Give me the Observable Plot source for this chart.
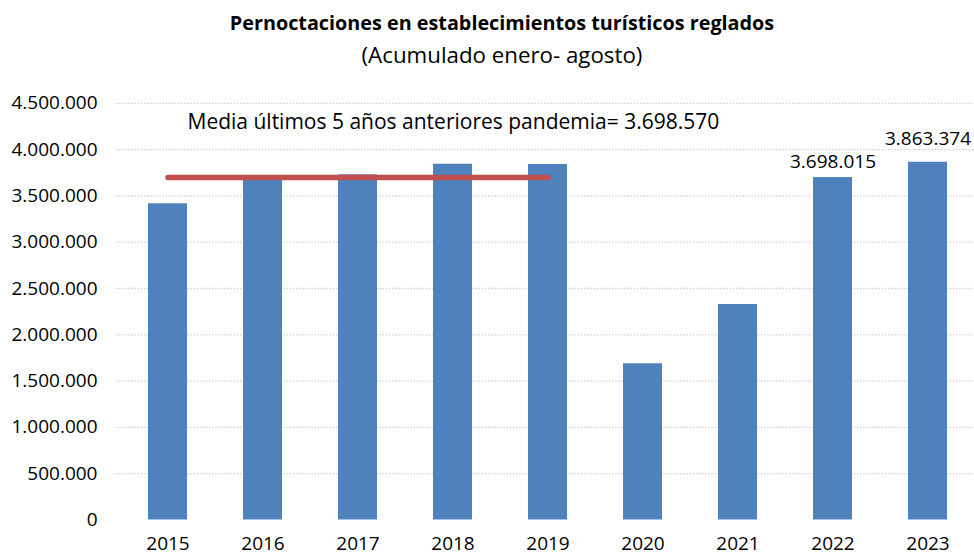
<!DOCTYPE html>
<html>
<head>
<meta charset="utf-8">
<script src="https://cdn.jsdelivr.net/npm/d3@7"></script>
<script src="https://cdn.jsdelivr.net/npm/@observablehq/plot@0.6"></script>
<style>
  html, body { margin: 0; padding: 0; background: #fff; }
  body { width: 974px; height: 555px; overflow: hidden; font-family: "Open Sans", "Liberation Sans", sans-serif; }
  #head { height: 80px; padding-left: 30px; text-align: center; color: #000; box-sizing: border-box; }
  #title { font-weight: bold; font-size: 19.8px; line-height: 20px; padding-top: 13px; }
  #subtitle { font-size: 22.3px; line-height: 22px; padding-top: 11px; }
</style>
</head>
<body>
<div id="head">
  <div id="title">Pernoctaciones en establecimientos turísticos reglados</div>
  <div id="subtitle">(Acumulado enero- agosto)</div>
</div>
<div id="chart"></div>
<script>
const years = ["2015", "2016", "2017", "2018", "2019", "2020", "2021", "2022", "2023"];
const nights = [3415000, 3669000, 3728000, 3842000, 3839000, 1687000, 2327000, 3698015, 3863374];
const preYears = ["2015", "2016", "2017", "2018", "2019"];
const preMean = 3698570;
const labelYears = ["2022", "2023"];
const yTicks = [0, 500000, 1000000, 1500000, 2000000, 2500000, 3000000, 3500000, 4000000, 4500000];
const annotation = "Media últimos 5 años anteriores pandemia= 3.698.570";

const fmt = d3.formatLocale({decimal: ",", thousands: ".", grouping: [3], currency: ["", ""]}).format(",d");
const data = years.map((y, i) => ({year: y, value: nights[i]}));
const FONT = "'Open Sans', 'Liberation Sans', sans-serif";

const chart = Plot.plot({
  width: 974,
  height: 475,
  marginLeft: 116,
  marginRight: 0,
  marginTop: 23,
  marginBottom: 35,
  style: {fontFamily: FONT, fontSize: "19px", color: "#000", background: "#fff"},
  x: {domain: years, range: [116, 978], paddingInner: 0.59, paddingOuter: 0.295, label: null},
  y: {domain: [0, 4500000], range: [439.5, 22.8], label: null},
  marks: [
    Plot.ruleY(yTicks.filter(d => d > 0), {stroke: "#d0d0d0", strokeWidth: 1.3, strokeDasharray: "1.5,1.6"}),
    Plot.axisY({ticks: yTicks, tickFormat: fmt, tickSize: 0, tickPadding: 19, label: null, fontSize: 19}),
    Plot.axisX({tickSize: 0, tickPadding: 16, label: null, fontSize: 19}),
    Plot.barY(data, {x: "year", y: "value", fill: "#4F81BD"}),
    Plot.ruleY([0], {stroke: "#d9d9d9", strokeWidth: 1.5, x1: -6}),
    Plot.lineY(preYears, {x: d => d, y: () => preMean, stroke: "#C0504D", strokeWidth: 5.5, strokeLinecap: "round"}),
    Plot.text(data.filter(d => d.year === labelYears[0]), {x: "year", y: "value", text: d => fmt(d.value), lineAnchor: "bottom", dy: -10, fontSize: 19}),
    Plot.text(data.filter(d => d.year === labelYears[1]), {x: "year", y: "value", text: d => fmt(d.value), lineAnchor: "bottom", dy: -17.5, fontSize: 19}),
    Plot.text([annotation], {frameAnchor: "top-left", text: d => d, textAnchor: "start", dx: 71, dy: 11, fontSize: 21})
  ]
});
document.getElementById("chart").appendChild(chart);
</script>
</body>
</html>
